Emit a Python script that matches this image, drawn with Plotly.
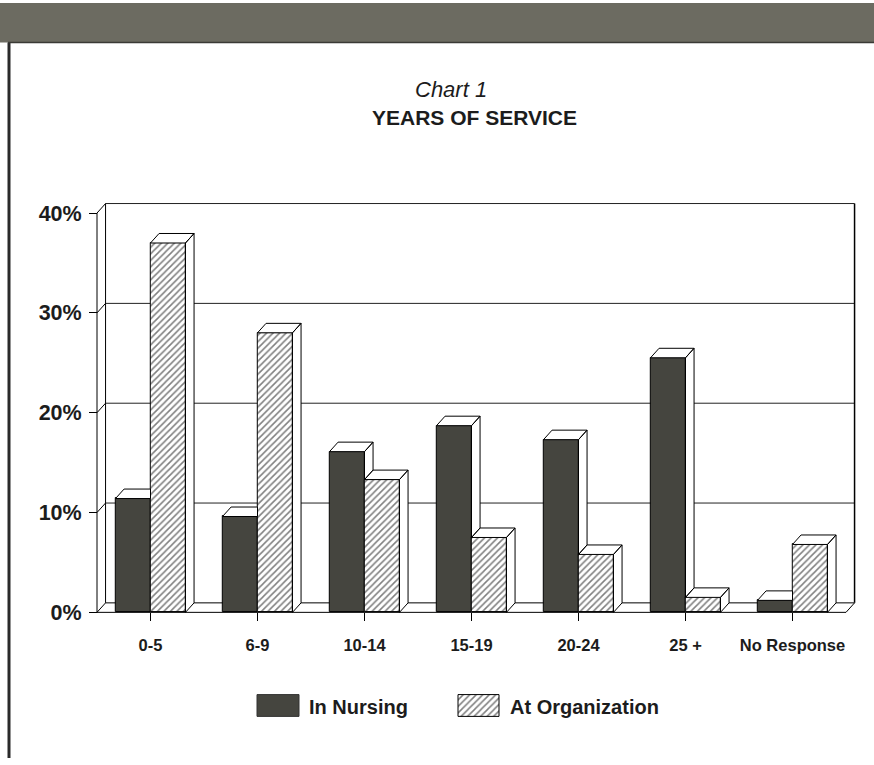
import plotly.graph_objects as go

# ---------------- data ----------------
categories = ["0-5", "6-9", "10-14", "15-19", "20-24", "25 +", "No Response"]
in_nursing = [11.4, 9.6, 16.1, 18.7, 17.3, 25.5, 1.2]
at_organization = [37.0, 28.0, 13.3, 7.5, 5.8, 1.5, 6.8]
y_tick_values = [0, 10, 20, 30, 40]
y_tick_labels = ["0%", "10%", "20%", "30%", "40%"]
series_names = ["In Nursing", "At Organization"]

# ---------------- geometry / style ----------------
W, H = 874, 765
FONT = "Liberation Sans, Arial, Helvetica, sans-serif"
INK = "#1c1c1c"
DARK = "#45453f"
BAND = "#6c6b61"

BAR_W = 0.327          # bar width in category units
DX, DY = 0.08, 0.95    # 3-D depth offset (x in category units, y in %)
X_LO, X_HI = -0.5, len(categories) - 0.5
Y_TOP = 40

# pixel mapping of the front plane
PX_X0 = 97.0           # pixel of x = -0.5
PX_PER_X = 107.0
PX_Y0 = 618.0          # pixel of y = 0
PX_PER_Y = 10.075

XR = [X_LO - 0.03, X_HI + 0.1]
YR = [-0.5, 41.3]


def xpix(v):
    return PX_X0 + (v - X_LO) * PX_PER_X


def ypix(v):
    return PX_Y0 - v * PX_PER_Y


x_domain = [xpix(XR[0]) / W, xpix(XR[1]) / W]
y_domain = [1 - ypix(YR[0]) / H, 1 - ypix(YR[1]) / H]

hatch = dict(shape="/", fgcolor="#000000", bgcolor="white", size=4.6, solidity=0.33)

fig = go.Figure()
xs = list(range(len(categories)))

# front faces
fig.add_trace(go.Bar(
    x=xs, y=in_nursing, width=BAR_W, offset=-BAR_W, name=series_names[0],
    marker=dict(color=DARK, line=dict(color="black", width=1)),
    showlegend=False, hoverinfo="skip"))
fig.add_trace(go.Bar(
    x=xs, y=at_organization, width=BAR_W, offset=0, name=series_names[1],
    marker=dict(color="white", line=dict(color="black", width=1), pattern=hatch),
    showlegend=False, hoverinfo="skip"))


def poly_trace(polys):
    px, py = [], []
    for p in polys:
        for a, b in p:
            px.append(a)
            py.append(b)
        px.append(p[0][0])
        py.append(p[0][1])
        px.append(None)
        py.append(None)
    return go.Scatter(x=px, y=py, mode="lines", fill="toself", fillcolor="white",
                      line=dict(color="black", width=1), hoverinfo="skip",
                      showlegend=False, connectgaps=False)


faces = []
for c, vn, vo in zip(xs, in_nursing, at_organization):
    x0 = c - BAR_W
    # nursing top face (clipped behind organisation bar when that one is taller)
    if vo > vn:
        faces.append([(x0, vn), (c, vn), (c, vn + DY), (x0 + DX, vn + DY)])
    else:
        faces.append([(x0, vn), (c, vn), (c + DX, vn + DY), (x0 + DX, vn + DY)])
        # visible part of nursing side face
        faces.append([(c, vo), (c, vn), (c + DX, vn + DY), (c + DX, vo + DY)])
    # organisation top and side faces
    x1 = c + BAR_W
    faces.append([(c, vo), (x1, vo), (x1 + DX, vo + DY), (c + DX, vo + DY)])
    faces.append([(x1, 0), (x1, vo), (x1 + DX, vo + DY), (x1 + DX, DY)])

fig.add_trace(poly_trace(faces))

# legend swatches on an overlay pixel axis
fig.add_trace(go.Scatter(
    x=[257, 299, 299, 257, 257], y=[701, 701, 723, 723, 701], xaxis="x2", yaxis="y2",
    mode="lines", fill="toself", fillcolor=DARK, line=dict(color="#333", width=1),
    hoverinfo="skip", showlegend=False))
fig.add_trace(go.Scatter(
    x=[458, 499, 499, 458, 458], y=[701, 701, 723, 723, 701], xaxis="x2", yaxis="y2",
    mode="lines", fill="toself", fillcolor="white", fillpattern=hatch,
    line=dict(color="black", width=1), hoverinfo="skip", showlegend=False))

# ---------------- walls / grid (shapes in data coords) ----------------
shapes = []


def seg(x0, y0, x1, y1, width=1, color="black"):
    shapes.append(dict(type="line", xref="x", yref="y", x0=x0, y0=y0, x1=x1, y1=y1,
                       line=dict(color=color, width=width), layer="below"))


seg(X_LO, 0, X_LO, Y_TOP)                                   # front y axis
for v in y_tick_values:
    seg(X_LO, v, X_LO + DX, v + DY)                         # side wall diagonals
for v in y_tick_values[1:]:
    seg(X_LO + DX, v + DY, X_HI + DX, v + DY, color="#222")  # back wall grid
seg(X_LO + DX, DY, X_LO + DX, Y_TOP + DY)                   # back wall left edge
seg(X_HI + DX, DY, X_HI + DX, Y_TOP + DY, width=1.5)        # back wall right edge
seg(X_LO + DX, DY, X_HI + DX, DY)                           # floor back edge
seg(X_LO, 0, X_HI, 0)                                       # floor front edge
seg(X_HI, 0, X_HI + DX, DY)                                 # floor right edge

# page frame
shapes.append(dict(type="rect", xref="paper", yref="paper", x0=0, x1=1,
                   y0=1 - 43 / H, y1=1 - 3 / H, fillcolor=BAND,
                   line=dict(width=0), layer="below"))
shapes.append(dict(type="line", xref="paper", yref="paper", x0=9 / W, x1=9 / W,
                   y0=0, y1=1 - 43 / H, line=dict(color="#2a2a2a", width=3)))
shapes.append(dict(type="line", xref="paper", yref="paper", x0=8 / W, x1=1,
                   y0=1 - 43 / H, y1=1 - 43 / H, line=dict(color="#3a3a35", width=1.5)))

annotations = [
    dict(text="<i>Chart 1</i>", x=451 / W, y=1 - 104 / H, xref="paper", yref="paper",
         showarrow=False, xanchor="center", yanchor="bottom", borderpad=0,
         font=dict(family=FONT, size=22, color=INK)),
    dict(text="<b>YEARS OF SERVICE</b>", x=474 / W, y=1 - 106 / H, xref="paper", yref="paper",
         showarrow=False, xanchor="center", yanchor="top", borderpad=0,
         font=dict(family=FONT, size=21, color=INK)),
    dict(text="<b>" + series_names[0] + "</b>", x=307 / W, y=1 - 714 / H, xref="paper",
         yref="paper", showarrow=False, xanchor="left", yanchor="middle",
         font=dict(family=FONT, size=20, color=INK)),
    dict(text="<b>" + series_names[1] + "</b>", x=508 / W, y=1 - 714 / H, xref="paper",
         yref="paper", showarrow=False, xanchor="left", yanchor="middle",
         font=dict(family=FONT, size=20, color=INK)),
]

fig.update_layout(
    width=W, height=H, margin=dict(l=0, r=0, t=0, b=0),
    paper_bgcolor="white", plot_bgcolor="rgba(0,0,0,0)",
    barmode="overlay", bargap=0, showlegend=False,
    shapes=shapes, annotations=annotations,
    font=dict(family=FONT, color=INK),
    xaxis=dict(domain=x_domain, range=XR, anchor="free", position=1 - PX_Y0 / H,
               tickmode="array", tickvals=xs, ticktext=categories,
               ticks="outside", ticklen=8, tickcolor="black", tickwidth=1,
               showgrid=False, zeroline=False, showline=False,
               tickfont=dict(family=FONT, size=16.5, color=INK, weight="bold"),
               ticklabelstandoff=10, fixedrange=True),
    yaxis=dict(domain=y_domain, range=YR, anchor="free", position=PX_X0 / W,
               tickmode="array", tickvals=y_tick_values, ticktext=y_tick_labels,
               ticks="outside", ticklen=8, tickcolor="black", tickwidth=1,
               showgrid=False, zeroline=False, showline=False,
               tickfont=dict(family=FONT, size=21.5, color=INK, weight="bold"),
               ticklabelstandoff=3, fixedrange=True),
    xaxis2=dict(domain=[0, 1], range=[0, W], visible=False, anchor="y2", fixedrange=True),
    yaxis2=dict(domain=[0, 1], range=[H, 0], visible=False, anchor="x2", fixedrange=True),
)

fig.write_html("out.html")
